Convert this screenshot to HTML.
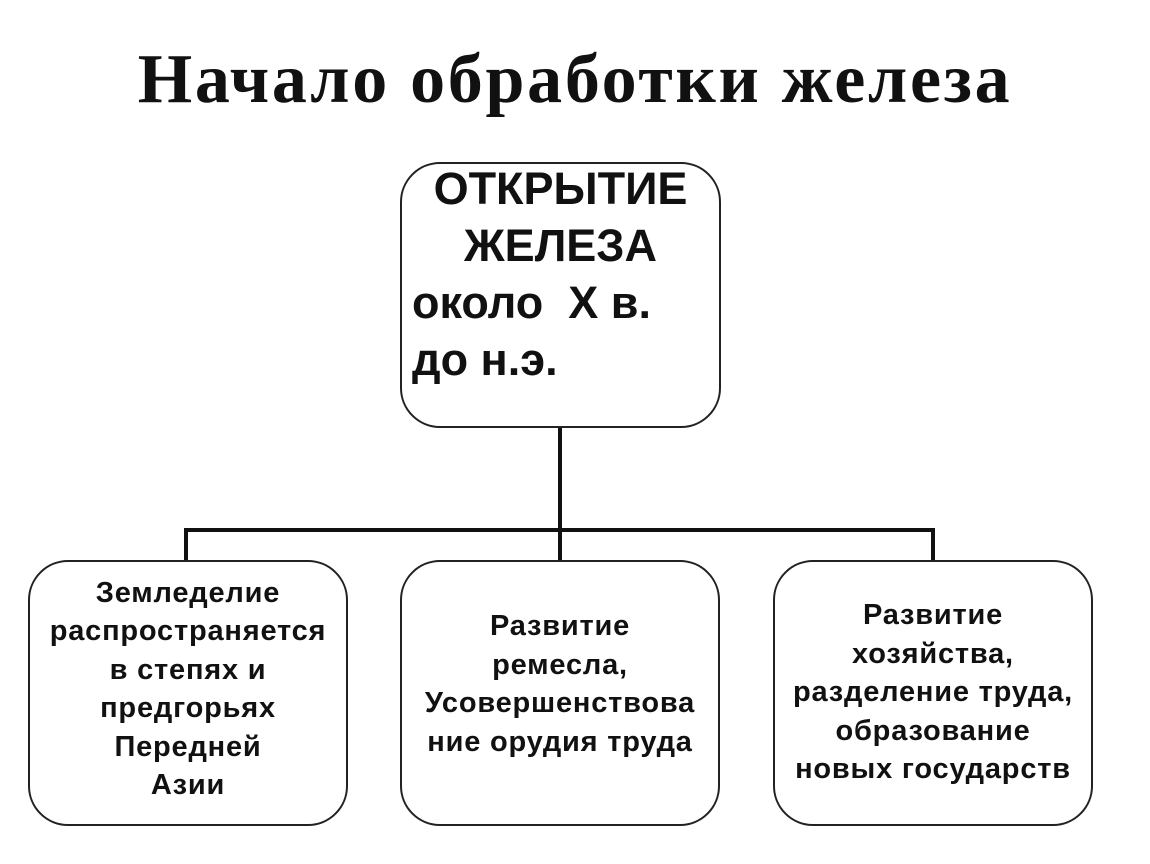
<!DOCTYPE html>
<html><head><meta charset="utf-8"><style>
body{margin:0;width:1150px;height:864px;background:#fff;position:relative;overflow:hidden}
h1{position:absolute;left:0;top:40px;width:1150px;margin:0;text-align:center;font:bold 70px "Liberation Serif",serif;color:#111;letter-spacing:2.7px}
.box{position:absolute;border:2px solid #222;border-radius:40px;box-sizing:border-box;font-family:"Liberation Sans",sans-serif;font-weight:bold;color:#111}
.b{width:320px;height:266px;top:560px;font-size:29px;line-height:38.5px;text-align:center;display:flex;align-items:center;justify-content:center;white-space:nowrap;letter-spacing:0.8px}
.l{position:absolute;background:#111}
</style></head><body>
<h1>Начало обработки железа</h1>
<div class="l" style="left:558px;top:426px;width:4px;height:106px"></div>
<div class="l" style="left:184px;top:528px;width:751px;height:4px"></div>
<div class="l" style="left:184px;top:528px;width:4px;height:33px"></div>
<div class="l" style="left:558px;top:528px;width:4px;height:33px"></div>
<div class="l" style="left:931px;top:528px;width:4px;height:33px"></div>
<div class="box" style="left:400px;top:162px;width:321px;height:266px;font-size:45px;line-height:57px">
<div style="text-align:center;margin-top:-4px;white-space:nowrap">ОТКРЫТИЕ<br>ЖЕЛЕЗА</div>
<div style="padding-left:10px;white-space:pre">около  Х в.<br>до н.э.</div>
</div>
<div class="box b" style="left:28px"><div style="margin-top:-8px">Земледелие<br>распространяется<br>в степях и<br>предгорьях<br>Передней<br>Азии</div></div>
<div class="box b" style="left:400px"><div style="margin-top:-18px">Развитие<br>ремесла,<br>Усовершенствова<br>ние орудия труда</div></div>
<div class="box b" style="left:773px"><div style="margin-top:-1px">Развитие<br>хозяйства,<br>разделение труда,<br>образование<br>новых государств</div></div>
</body></html>
